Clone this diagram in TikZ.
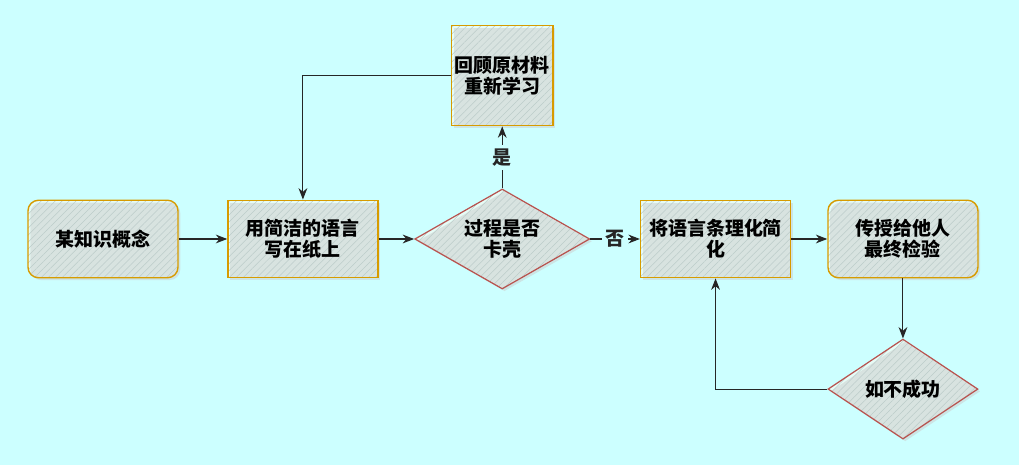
\documentclass[tikz,border=0pt]{standalone}
\usepackage{fontspec}
\setmainfont{Noto Sans CJK SC}
\usepackage{xcolor}
\usepackage{tikz}
\usetikzlibrary{arrows.meta,positioning,shapes.geometric,patterns.meta,shadows}
\definecolor{bg}{RGB}{204,255,255}
\definecolor{boxfill}{RGB}{230,252,246}
\definecolor{hatch}{RGB}{188,204,202}
\definecolor{edgeorange}{RGB}{215,155,0}
\definecolor{edgered}{RGB}{184,84,80}

\begin{document}
\begin{tikzpicture}[>={Stealth[length=6.5pt,width=5pt]},every node/.append style={font=\bfseries\fontsize{10.8}{12}\selectfont},
  hatched/.style={preaction={fill=boxfill},pattern={Lines[angle=45,distance=2.8pt,line width=0.3pt]},pattern color=hatch,
    drop shadow={shadow xshift=1.3pt,shadow yshift=-1.3pt,fill=gray!40}},
  box/.style={hatched,draw=edgeorange,line width=0.8pt,minimum width=3cm,minimum height=1.55cm,align=center,inner sep=2pt},
  rbox/.style={box,rounded corners=6pt},
  dia/.style={hatched,diamond,draw=edgered,line width=0.7pt,minimum width=3.5cm,minimum height=2cm,aspect=1.75,align=center,inner sep=0pt},
  lbl/.style={fill=bg,inner sep=2pt},
  line/.style={->,line width=0.6pt,black!85}]
\fill[bg] (-2.06,-4.52) rectangle (18.32,4.78);
\node[rbox] (idea) {某知识概念};
\node[box,right=0.97cm of idea] (write) {用简洁的语言\\写在纸上};
\node[dia,right=0.71cm of write] (stuck) {过程是否\\卡壳};
\node[box,minimum width=2cm,minimum height=2cm,above=1.24cm of stuck] (review) {回顾原材料\\重新学习};
\node[box,right=0.99cm of stuck] (tidy) {将语言条理化简\\化};
\node[rbox,right=0.72cm of tidy] (teach) {传授给他人\\最终检验};
\node[dia,minimum width=3cm,below=1.2cm of teach] (fail) {如不成功};
\draw[line] (idea) -- (write);
\draw[line] (write) -- (stuck);
\draw[line] (stuck) -- node[lbl]{是} (review);
\draw[line] (review.west) -| (write.north);
\draw[line] (stuck) -- node[lbl]{否} (tidy);
\draw[line] (tidy) -- (teach);
\draw[line] (teach) -- (fail);
\draw[line] (fail.west) -| (tidy.south);
\end{tikzpicture}
\end{document}
